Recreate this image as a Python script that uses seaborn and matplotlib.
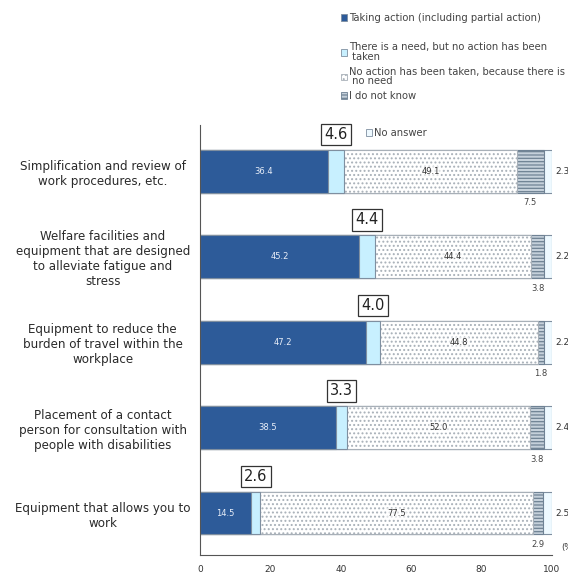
import matplotlib
matplotlib.use("Agg")
import matplotlib.pyplot as plt
from matplotlib.patches import Patch
import numpy as np
import pandas as pd
import seaborn as sns

categories = [
    "Simplification and review of\nwork procedures, etc.",
    "Welfare facilities and\nequipment that are designed\nto alleviate fatigue and\nstress",
    "Equipment to reduce the\nburden of travel within the\nworkplace",
    "Placement of a contact\nperson for consultation with\npeople with disabilities",
    "Equipment that allows you to\nwork",
]
taking_action = [36.4, 45.2, 47.2, 38.5, 14.5]
need_no_action = [4.6, 4.4, 4.0, 3.3, 2.6]
no_need = [49.1, 44.4, 44.8, 52.0, 77.5]
do_not_know = [7.5, 3.8, 1.8, 3.8, 2.9]
no_answer = [2.3, 2.2, 2.2, 2.4, 2.5]

series_names = [
    "Taking action (including partial action)",
    "There is a need, but no action has been\n taken",
    "No action has been taken, because there is\n no need",
    "I do not know",
    "No answer",
]
x_ticks = [0, 20, 40, 60, 80, 100]

sns.set_theme(style="white")
plt.rcParams["font.family"] = ["DejaVu Sans"]
plt.rcParams["hatch.linewidth"] = 0.9

colors = ["#2D5B99", "#C8F0FF", "#FFFFFF", "#C5D0DA", "#EEF9FF"]
hatches = [None, None, "....", "-----", None]
hatch_edges = ["#7F8FA0", "#7F8FA0", "#A8B0B8", "#6F8294", "#7F8FA0"]

fig = plt.figure(figsize=(5.68, 5.74), dpi=100)
ax = fig.add_axes([200 / 568, 19 / 574, 352 / 568, 430 / 574])

series = [taking_action, need_no_action, no_need, do_not_know, no_answer]
arr = np.array(series)
cum = np.cumsum(arr, axis=0)
starts = cum - arr

# draw cumulative bars, from the longest to the shortest, so each covers the next
for k in range(len(series) - 1, -1, -1):
    df = pd.DataFrame({"cat": categories, "val": cum[k]})
    n_before = len(ax.patches)
    sns.barplot(data=df, x="val", y="cat", orient="h", color=colors[k],
                width=0.5, saturation=1, ax=ax, zorder=2)
    for p in ax.patches[n_before:]:
        p.set_facecolor(colors[k])
        p.set_edgecolor(hatch_edges[k])
        p.set_linewidth(0.8)
        if hatches[k]:
            p.set_hatch(hatches[k])

for i in range(len(categories)):
    ax.text(starts[0][i] + arr[0][i] / 2, i, f"{arr[0][i]:.1f}", ha="center",
            va="center", color="#E8EEF8", fontsize=6, zorder=5)
    ax.text(starts[2][i] + arr[2][i] / 2, i, f"{arr[2][i]:.1f}", ha="center",
            va="center", color="#333333", fontsize=6, zorder=5,
            bbox=dict(boxstyle="square,pad=0.1", fc="white", ec="none", alpha=0.6))
    ax.text(starts[1][i] + arr[1][i] / 2, i - 0.43, f"{arr[1][i]:.1f}", ha="center",
            va="center", color="#222222", fontsize=10.5, zorder=5,
            bbox=dict(boxstyle="square,pad=0.22", fc="white", ec="#333333", lw=0.9))
    ax.text(starts[3][i] + arr[3][i] / 2, i + 0.37, f"{arr[3][i]:.1f}", ha="center",
            va="center", color="#444444", fontsize=6, zorder=5)
    ax.text(101.0, i, f"{arr[4][i]:.1f}", ha="left", va="center",
            color="#333333", fontsize=6.5, zorder=5, clip_on=False)

ax.text(102.5, 4.40, "(%)", ha="left", va="center", color="#333333",
        fontsize=6, clip_on=False)

ax.set_xlim(0, 100)
ax.set_ylim(4.49, -0.54)
ax.set_xticks(x_ticks)
ax.set_xticklabels([str(t) for t in x_ticks], fontsize=6.5, color="#333333")
ax.tick_params(axis="x", length=0, pad=7)
ax.tick_params(axis="y", length=0, pad=70)
for lab in ax.get_yticklabels():
    lab.set_horizontalalignment("center")
    lab.set_fontsize(8.6)
    lab.set_color("#2A2A2A")
ax.set_xlabel("")
ax.set_ylabel("")
for s in ["top", "right"]:
    ax.spines[s].set_visible(False)
for s in ["left", "bottom"]:
    ax.spines[s].set_color("#555555")
    ax.spines[s].set_linewidth(0.8)

handles = [Patch(facecolor=colors[k], edgecolor=hatch_edges[k], hatch=hatches[k],
                 linewidth=0.6) for k in range(len(series))]
leg_kw = dict(frameon=False, fontsize=7.2, handlelength=0.6, handleheight=0.6,
              handletextpad=0.2, borderaxespad=0, borderpad=0, labelcolor="#444444")

leg1 = fig.legend(handles[:1], series_names[:1], loc="center left",
                  bbox_to_anchor=(341 / 568, 1 - 18 / 574), **leg_kw)
leg2 = fig.legend(handles[1:4], series_names[1:4], loc="upper left",
                  bbox_to_anchor=(341 / 568, 1 - 42 / 574), labelspacing=0.45,
                  **leg_kw)
for t in leg2.get_texts():
    t.set_linespacing(1.0)
leg3 = fig.legend(handles[4:], series_names[4:], loc="center left",
                  bbox_to_anchor=(366 / 568, 1 - 133 / 574), **leg_kw)

fig.savefig("out.png", dpi=100)
